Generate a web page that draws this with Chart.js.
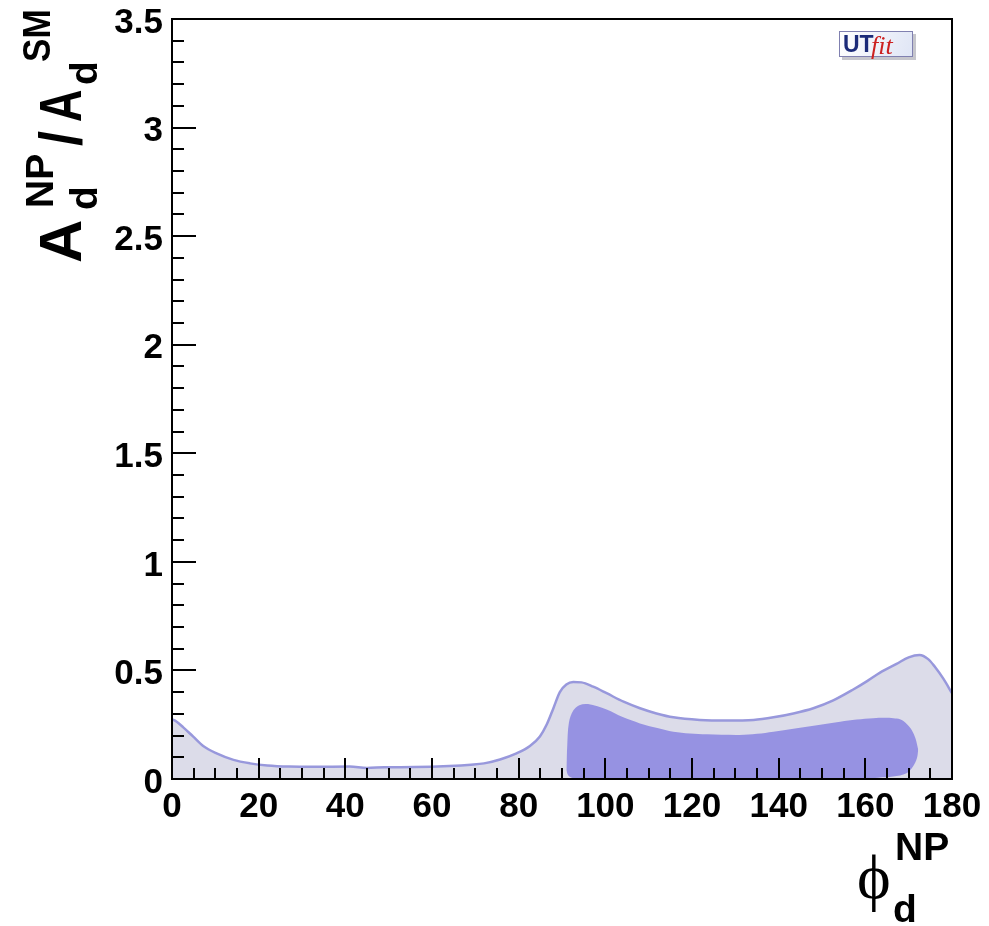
<!DOCTYPE html>
<html>
<head>
<meta charset="utf-8">
<script src="https://cdn.jsdelivr.net/npm/chart.js@4.4.0/dist/chart.umd.min.js"></script>
<style>
  html, body { margin: 0; padding: 0; background: #fff; }
  canvas { display: block; }
</style>
</head>
<body>
<canvas id="grafico" width="989" height="926"></canvas>
<script>
// Região externa (contorno claro) - phi_d^NP em graus, razão A_d^NP/A_d^SM
const phiExterno = [0, 1, 2.6, 4.9, 7.2, 10.3, 14.2, 18, 22, 27, 33, 41, 45, 49, 56, 64, 69, 72,
    75.7, 79.5, 82.6, 84.9, 86.5, 88, 89.5, 91, 92.6, 94.5, 97.2, 100.3, 104.2, 108, 111.8,
    115.7, 121.8, 128, 134.2, 138.8, 143.4, 148, 152.6, 157.2, 160.5, 163.4, 167.2, 170,
    172.5, 174.5, 176, 178, 180];
const razaoExterno = [0.275, 0.265, 0.238, 0.195, 0.152, 0.118, 0.088, 0.072, 0.062, 0.057, 0.056,
    0.057, 0.051, 0.054, 0.055, 0.060, 0.066, 0.072, 0.090, 0.118, 0.152, 0.196, 0.252, 0.325,
    0.400, 0.435, 0.447, 0.445, 0.425, 0.395, 0.356, 0.326, 0.302, 0.284, 0.272, 0.269, 0.272,
    0.284, 0.302, 0.326, 0.362, 0.412, 0.452, 0.490, 0.530, 0.560, 0.571, 0.552, 0.518, 0.462,
    0.395];

// Região interna (escura): borda de cima e borda de baixo
const phiInternoSup = [91.0, 91.2, 91.6, 92.6, 94, 96, 100.3, 104, 108, 112, 115.7, 119.5, 123.4,
    131, 135, 138.8, 146.5, 154.2, 158, 161.8, 164.5, 166.5, 168, 169.5, 170.7, 171.6, 172.2];
const razaoInternoSup = [0.04, 0.15, 0.26, 0.315, 0.34, 0.345, 0.32, 0.285, 0.256, 0.235, 0.218,
    0.21, 0.206, 0.203, 0.208, 0.218, 0.241, 0.264, 0.274, 0.28, 0.282, 0.28, 0.275, 0.255,
    0.226, 0.185, 0.135];
const phiInternoInf = [91.0, 91.5, 92.8, 95, 160, 163, 166.4, 169.5, 171, 171.9, 172.2];
const razaoInternoInf = [0.04, 0.015, 0.003, 0, 0, 0.006, 0.011, 0.026, 0.057, 0.095, 0.135];

// Marcas dos eixos
const ticksX = [0, 20, 40, 60, 80, 100, 120, 140, 160, 180];
const ticksY = [0, 0.5, 1, 1.5, 2, 2.5, 3, 3.5];

const pontos = (xs, ys) => xs.map((x, i) => ({ x: x, y: ys[i] }));

// Moldura e marcas internas (maiores e menores), desenhadas por cima do preenchimento
const moldura = {
    id: 'moldura',
    afterDatasetsDraw(chart) {
        const { ctx, chartArea: a, scales: { x, y } } = chart;
        ctx.save();
        ctx.strokeStyle = '#000';
        ctx.lineWidth = 2;
        ctx.beginPath();
        for (let i = 0; i <= 35; i++) {
            const py = Math.round(y.getPixelForValue(i / 10));
            const len = i % 5 === 0 ? 24 : 12;
            ctx.moveTo(a.left, py);
            ctx.lineTo(a.left + len, py);
        }
        for (let i = 0; i <= 36; i++) {
            const px = Math.round(x.getPixelForValue(i * 5));
            const len = i % 4 === 0 ? 21 : 11;
            ctx.moveTo(px, a.bottom);
            ctx.lineTo(px, a.bottom - len);
        }
        ctx.stroke();
        ctx.strokeRect(a.left, a.top, a.right - a.left, a.bottom - a.top);
        ctx.restore();
    }
};

// escreve um pedaço de texto com compressão horizontal opcional
function texto(ctx, t, x, y, fonte, escala) {
    ctx.save();
    ctx.translate(x, y);
    ctx.scale(escala || 1, 1);
    ctx.font = fonte;
    ctx.fillText(t, 0, 0);
    ctx.restore();
}

// Títulos dos eixos (com índices) e o selo UTfit
const titulos = {
    id: 'titulos',
    afterDraw(chart) {
        const ctx = chart.ctx;
        const grande = 'bold 60px "Liberation Sans", Arial, sans-serif';
        const pequeno = 'bold 39px "Liberation Sans", Arial, sans-serif';
        ctx.save();
        ctx.fillStyle = '#000';
        ctx.textBaseline = 'alphabetic';
        ctx.textAlign = 'left';

        // eixo y: A_d^NP / A_d^SM, girado
        ctx.save();
        ctx.translate(81, 263);
        ctx.rotate(-Math.PI / 2);
        texto(ctx, 'A', 0, 0, grande);
        texto(ctx, 'd', 53, 16, pequeno);
        texto(ctx, 'NP', 55, -28, pequeno);
        texto(ctx, '/', 117, 0, grande, 0.9);
        texto(ctx, 'A', 141, 0, grande, 0.75);
        texto(ctx, 'd', 178, 16, pequeno);
        texto(ctx, 'SM', 201, -31, pequeno, 0.9);
        ctx.restore();

        // eixo x: phi_d^NP
        texto(ctx, '\u03D5', 857, 898, '64px "Liberation Serif", "DejaVu Serif", serif');
        texto(ctx, 'NP', 895, 860, pequeno);
        texto(ctx, 'd', 893, 922, pequeno);

        // selo UTfit
        ctx.fillStyle = '#c6c6cc';
        ctx.fillRect(842, 34, 74, 26);
        const grad = ctx.createLinearGradient(839, 31, 913, 57);
        grad.addColorStop(0, '#ffffff');
        grad.addColorStop(1, '#dfe5f5');
        ctx.fillStyle = grad;
        ctx.fillRect(839, 31, 74, 26);
        ctx.strokeStyle = '#8080b0';
        ctx.lineWidth = 1;
        ctx.strokeRect(839.5, 31.5, 73, 25);
        ctx.fillStyle = '#1b2a78';
        texto(ctx, 'UT', 843, 52, 'bold 23px "Liberation Sans", Arial, sans-serif');
        ctx.fillStyle = '#cc2020';
        texto(ctx, 'fit', 871, 54, 'italic 26px "Liberation Serif", serif');
        ctx.restore();
    }
};

function inicializar() {
    const ctx = document.getElementById('grafico').getContext('2d');
    const fonteTicks = { family: '"Liberation Sans", Arial, sans-serif', size: 35, weight: 'bold', lineHeight: 1 };
    new Chart(ctx, {
        type: 'line',
        data: {
            datasets: [{
                data: pontos(phiInternoSup, razaoInternoSup),
                fill: '+1',
                backgroundColor: '#9692e2',
                borderColor: 'transparent',
                borderWidth: 0,
                pointRadius: 0,
                tension: 0.35
            }, {
                data: pontos(phiInternoInf, razaoInternoInf),
                fill: false,
                borderColor: 'transparent',
                borderWidth: 0,
                pointRadius: 0,
                tension: 0.35
            }, {
                data: pontos(phiExterno, razaoExterno),
                fill: 'origin',
                backgroundColor: '#dcdce9',
                borderColor: '#9898dc',
                borderWidth: 2.5,
                pointRadius: 0,
                cubicInterpolationMode: 'monotone'
            }]
        },
        options: {
            responsive: false,
            animation: false,
            layout: { padding: { top: 19, right: 37 } },
            plugins: { legend: { display: false }, tooltip: { enabled: false } },
            scales: {
                x: {
                    type: 'linear',
                    min: 0, max: 180,
                    afterBuildTicks: s => { s.ticks = ticksX.map(v => ({ value: v })); },
                    afterFit: s => { s.height = 147; s.paddingLeft = 0; s.paddingRight = 0; },
                    grid: { display: false, drawTicks: false },
                    border: { display: false },
                    ticks: { color: '#000', font: fonteTicks, padding: 11, maxRotation: 0, callback: v => String(v) }
                },
                y: {
                    type: 'linear',
                    min: 0, max: 3.5,
                    afterBuildTicks: s => { s.ticks = ticksY.map(v => ({ value: v })); },
                    afterFit: s => { s.width = 172; s.paddingTop = 0; s.paddingBottom = 0; },
                    grid: { display: false, drawTicks: false },
                    border: { display: false },
                    ticks: { color: '#000', font: fonteTicks, padding: 9, labelOffset: 4, callback: v => String(v) }
                }
            }
        },
        plugins: [moldura, titulos]
    });
}

window.onload = inicializar;
</script>
</body>
</html>
